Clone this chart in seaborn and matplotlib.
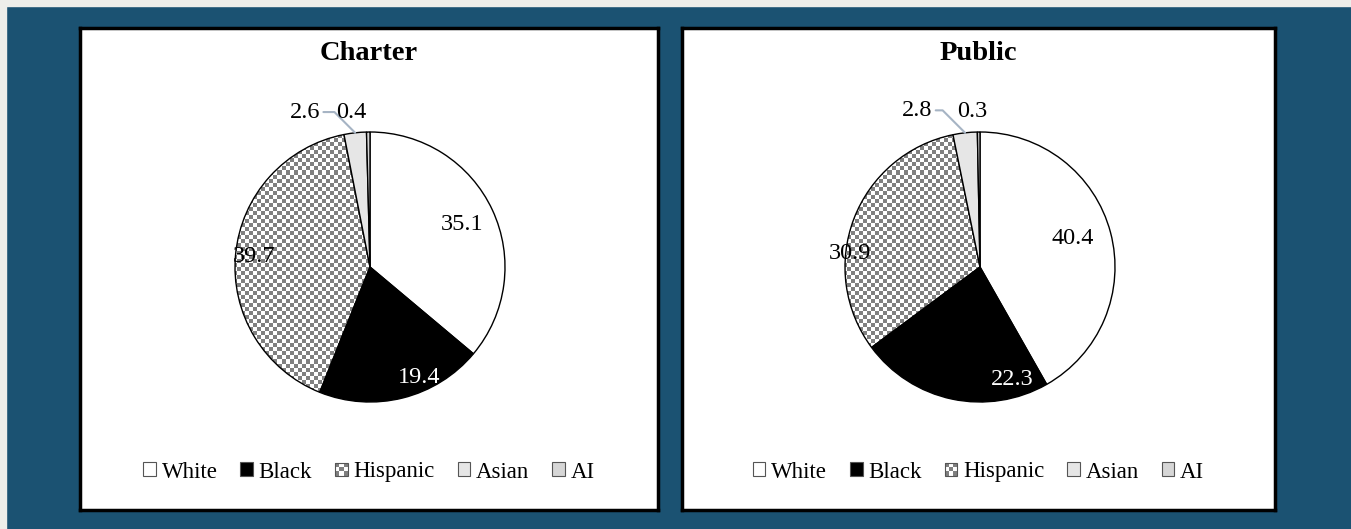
import numpy as np
import matplotlib
matplotlib.use("Agg")
import matplotlib.pyplot as plt
import seaborn as sns
from matplotlib.patches import Rectangle, Patch
from matplotlib.colors import ListedColormap
from matplotlib.legend_handler import HandlerBase

# ---------------- data ----------------
categories = ["White", "Black", "Hispanic", "Asian", "AI"]
charter_values = [35.1, 19.4, 39.7, 2.6, 0.4]
public_values = [40.4, 22.3, 30.9, 2.8, 0.3]
panel_titles = ["Charter", "Public"]

# ---------------- style ----------------
sns.set_theme(style="white")
plt.rcParams["font.family"] = ["Liberation Serif", "DejaVu Serif"]
plt.rcParams["text.color"] = "black"

BG = "#1b5272"
STRIP = "#eeeeea"
slice_colors = ["white", "black", None, "#e6e6e6", "#d6d6d6"]
label_colors = ["black", "white", "black", "black", "black"]
# (radial distance, angle shift in degrees) per label, Excel "best fit" look
label_style = [
    [(0.75, 0), (0.90, 10), (0.86, 0), (1.245, 16.5), (1.156, 6)],
    [(0.72, 2.5), (0.87, 28), (0.97, 15), (1.25, 15.5), (1.15, 2.4)],
]
LEADER = "#a6b4c4"

W, H = 1351, 529
fig = plt.figure(figsize=(W / 100, H / 100), dpi=100, facecolor=BG)
fig.add_artist(Rectangle((0, 0), 6 / W, 1, transform=fig.transFigure,
                         color=STRIP, zorder=0))
fig.add_artist(Rectangle((0, 1 - 6 / H), 1, 6 / H, transform=fig.transFigure,
                         color=STRIP, zorder=0))


class CheckerHandler(HandlerBase):
    def create_artists(self, legend, orig_handle, xdescent, ydescent,
                       width, height, fontsize, trans):
        n = 3
        s = min(width, height)
        x0 = -xdescent + (width - s) / 2
        y0 = -ydescent + (height - s) / 2
        c = s / n
        arts = []
        for i in range(n):
            for j in range(n):
                col = "#7f7f7f" if (i + j) % 2 == 0 else "white"
                arts.append(Rectangle((x0 + i * c, y0 + j * c), c, c,
                                      facecolor=col, edgecolor="none",
                                      transform=trans))
        arts.append(Rectangle((x0, y0), s, s, facecolor="none",
                              edgecolor="#555555", lw=0.8, transform=trans))
        return arts


# panel frames in pixels: (left, right, top, bottom)
frames = [(80, 658, 28, 510), (682, 1275, 28, 510)]
centers = [(370, 267), (980, 267)]
R = 135
K = 1.4

for p, (vals, title) in enumerate(zip([charter_values, public_values], panel_titles)):
    l, r, t, b = frames[p]
    fax = fig.add_axes([l / W, (H - b) / H, (r - l) / W, (b - t) / H])
    fax.set_facecolor("white")
    fax.set_xticks([]); fax.set_yticks([])
    for sp in fax.spines.values():
        sp.set_color("black"); sp.set_linewidth(2.5); sp.set_visible(True)
    fax.set_zorder(1)
    fax.text(0.5, (b - 60) / (b - t), title, transform=fax.transAxes,
             ha="center", va="baseline", fontsize=20.5, fontweight="bold",
             color="black")

    handles = []
    for c, col in zip(categories, slice_colors):
        if col is None:
            handles.append(Patch(facecolor="#7f7f7f", edgecolor="#555555", label=c))
        else:
            handles.append(Patch(facecolor=col, edgecolor="#555555",
                                 linewidth=0.8, label=c))
    leg = fax.legend(handles=handles, labels=categories, loc="center",
                     bbox_to_anchor=(0.5, (b - 472) / (b - t)), ncol=5,
                     frameon=False, fontsize=16.5, handlelength=0.55,
                     handleheight=0.55, handletextpad=0.25, columnspacing=1.0,
                     handler_map={handles[2]: CheckerHandler()})
    for tx in leg.get_texts():
        tx.set_color("black")

    cx, cy = centers[p]
    side = 2 * R * K
    pax = fig.add_axes([(cx - side / 2) / W, (H - cy - side / 2) / H, side / W, side / H])
    pax.set_zorder(2)
    pax.patch.set_alpha(0)
    fc = [c if c is not None else "none" for c in slice_colors]
    wedges, _ = pax.pie(vals, startangle=90, counterclock=False, colors=fc,
                        radius=1, wedgeprops=dict(edgecolor="black", linewidth=1.0))
    for w in wedges:
        w.set_zorder(2)
    pax.set_xlim(-K, K); pax.set_ylim(-K, K)
    pax.set_aspect("equal")
    pax.axis("off")

    # checkerboard texture for Hispanic slice
    n = int(round(side / 4))
    board = np.add.outer(np.arange(n), np.arange(n)) % 2
    im = pax.imshow(board, cmap=ListedColormap(["white", "#808080"]),
                    extent=(-K, K, -K, K), interpolation="nearest", zorder=1)
    im.set_clip_path(wedges[2])

    for i, w in enumerate(wedges):
        mid = np.deg2rad((w.theta1 + w.theta2) / 2)
        dist, shift = label_style[p][i]
        ang = mid + np.deg2rad(shift)
        tx, ty = dist * np.cos(ang), dist * np.sin(ang)
        txt = f"{vals[i]:.1f}"
        if i == 3:
            ex, ey = np.cos(mid), np.sin(mid)
            pax.annotate(txt, xy=(ex, ey), xytext=(tx, ty), ha="center",
                         va="center", fontsize=17.5, color=label_colors[i],
                         annotation_clip=False,
                         arrowprops=dict(arrowstyle="-", color=LEADER, lw=1.5,
                                         shrinkA=0, shrinkB=0,
                                         connectionstyle="angle,angleA=0,angleB=135,rad=0"))
        else:
            pax.text(tx, ty, txt, ha="center", va="center", fontsize=17.5,
                     color=label_colors[i], clip_on=False)

fig.savefig("out.png", dpi=100, facecolor=BG)
